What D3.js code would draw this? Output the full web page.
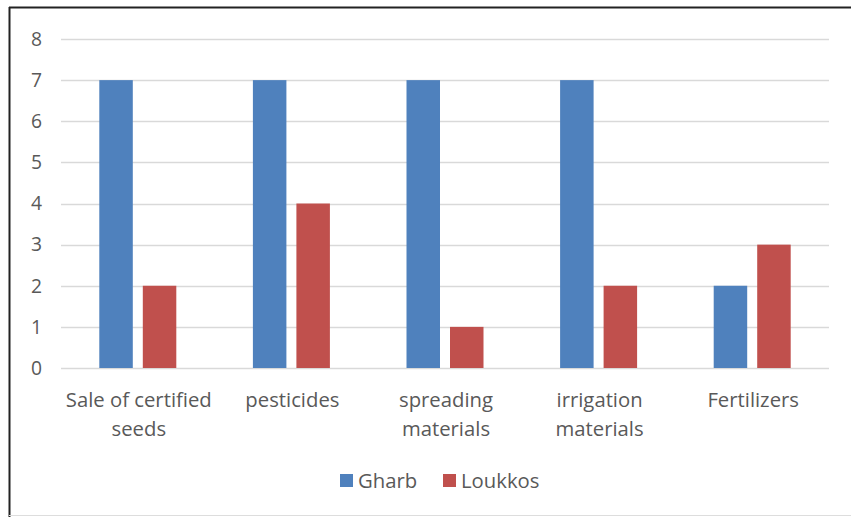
<!DOCTYPE html>
<html><head><meta charset="utf-8">
<script src="https://cdn.jsdelivr.net/npm/d3@7"></script>
<style>body{margin:0;background:#fff}svg{display:block}</style>
</head><body><svg id="c" width="851" height="517"></svg>
<script>
const categories = [["Sale of certified","seeds"],["pesticides"],["spreading","materials"],["irrigation","materials"],["Fertilizers"]];
const seriesNames = ["Gharb","Loukkos"];
const gharb = [7,7,7,7,2];
const loukkos = [2,4,1,2,3];
const yTicks = [0,1,2,3,4,5,6,7,8];
const colors = ["#4F81BD","#C0504D"];

const svg = d3.select("#c");
const font = "'Open Sans', sans-serif";
const fs = 20.3;
// frame
svg.append("line").attr("x1",9.5).attr("x2",9.5).attr("y1",7).attr("y2",517).attr("stroke","#222").attr("stroke-width",2);
svg.append("line").attr("x1",9).attr("x2",851).attr("y1",7.5).attr("y2",7.5).attr("stroke","#222").attr("stroke-width",2);
svg.append("line").attr("x1",9).attr("x2",851).attr("y1",515.5).attr("y2",515.5).attr("stroke","#ddd").attr("stroke-width",1);

const y = d3.scaleLinear().domain([0,8]).range([368,39]);
const x0 = d3.scaleBand().domain(d3.range(categories.length)).range([61,829]);
const x1 = d3.scaleBand().domain(seriesNames).range([0,77]).paddingInner(0.23);

svg.append("g").selectAll("line").data(yTicks).join("line")
  .attr("x1",61).attr("x2",829).attr("y1",d=>Math.round(y(d))+0.5).attr("y2",d=>Math.round(y(d))+0.5)
  .attr("stroke","#d9d9d9").attr("stroke-width",1.5);
svg.append("g").selectAll("text").data(yTicks).join("text")
  .attr("x",42).attr("y",d=>y(d)).attr("dy","0.35em").attr("text-anchor","end")
  .attr("font-family",font).attr("font-size",fs-1).attr("fill","#595959").text(d=>d);

const data = [gharb, loukkos];
data.forEach((vals,si)=>{
  svg.append("g").selectAll("rect").data(vals).join("rect")
    .attr("x",(d,i)=>x0(i)+x0.bandwidth()/2-38.5+x1(seriesNames[si]))
    .attr("width",x1.bandwidth())
    .attr("y",d=>y(d)).attr("height",d=>y(0)-y(d))
    .attr("fill",colors[si]);
});

const lab = svg.append("g").selectAll("text").data(categories).join("text")
  .attr("text-anchor","middle").attr("font-family",font).attr("font-size",fs).attr("fill","#595959");
lab.each(function(lines,i){
  const t=d3.select(this);
  lines.forEach((l,j)=>t.append("tspan").attr("x",x0(i)+x0.bandwidth()/2+1).attr("y",407+j*29).text(l));
});

const leg = [{n:"Gharb",x:340},{n:"Loukkos",x:443}];
leg.forEach((d,i)=>{
  svg.append("rect").attr("x",d.x).attr("y",474).attr("width",13).attr("height",13).attr("fill",colors[i]);
  svg.append("text").attr("x",d.x+18).attr("y",481).attr("dy","0.35em").attr("font-family",font).attr("font-size",fs).attr("fill","#595959").text(d.n);
});
</script></body></html>
